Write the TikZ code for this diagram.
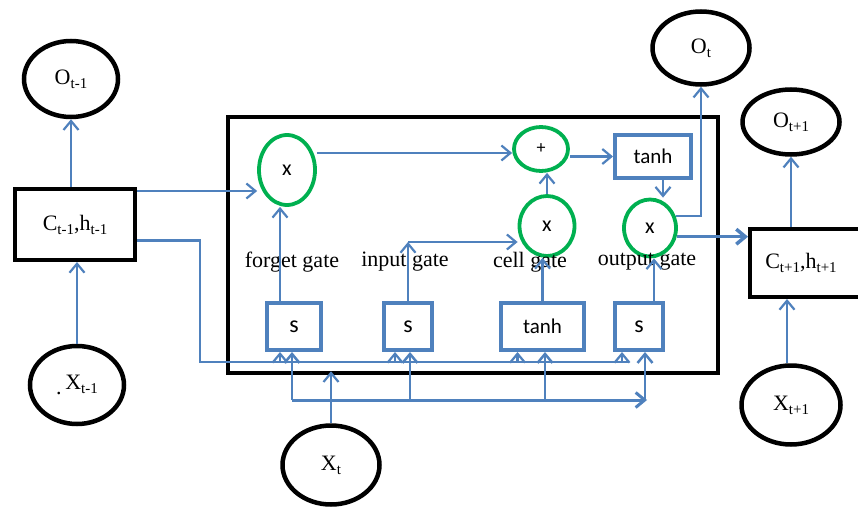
\documentclass[tikz,border=0pt]{standalone}
\usepackage{fontspec}
\setmainfont{Liberation Serif}
\newfontfamily\carl{Carlito}
\usetikzlibrary{shapes.geometric,arrows.meta,calc}
\definecolor{blu}{RGB}{79,129,189}
\definecolor{grn}{RGB}{0,176,80}
\newcommand\sbs[1]{\raisebox{-4pt}{\fontsize{15}{15}\selectfont #1}}
\begin{document}
\begin{tikzpicture}[x=1pt,y=-1pt,
 ell/.style={ellipse,draw=black,line width=4.5pt,inner sep=0pt,font=\fontsize{22}{22}\selectfont},
 gc/.style={ellipse,draw=grn,line width=3.8pt,inner sep=0pt,font=\carl\fontsize{22}{22}\selectfont},
 kbox/.style={rectangle,draw=black,line width=4pt,inner sep=0pt,font=\fontsize{22}{22}\selectfont},
 bbox/.style={rectangle,draw=blu,line width=4pt,inner sep=0pt,font=\carl\fontsize{21}{21}\selectfont},
 glabel/.style={inner sep=0pt,font=\fontsize{22}{22}\selectfont},
 tip/.style={-{Straight Barb[length=9pt,width=15pt]}},
 wire/.style={draw=blu,line width=2.2pt},
 conn/.style={wire,tip}]
\useasboundingbox (0,0) rectangle (858,508);
\fill[white] (0,0) rectangle (858,508);

% big cell box
\draw[line width=4.5pt] (228,117) rectangle (718,373);

% outer nodes
\node[ell,minimum width=94pt,minimum height=76pt] (Om) at (71,79) {O\sbs{t-1}};
\node[kbox,minimum width=120pt,minimum height=71pt] (Cm) at (75,224.5) {C\sbs{t-1},h\sbs{t-1}};
\node[ell,minimum width=94pt,minimum height=78pt] (Xm) at (77,385) {\raisebox{-5pt}{.}\,X\sbs{t-1}};
\node[ell,minimum width=97pt,minimum height=73pt] (Ot) at (701,48) {O\sbs{t}};
\node[ell,minimum width=97pt,minimum height=65pt] (Op) at (791,122) {O\sbs{t+1}};
\node[kbox,minimum width=110pt,minimum height=68pt] (Cp) at (805,263) {\hspace*{-8pt}C\sbs{t+1},h\sbs{t+1}};
\node[ell,minimum width=99pt,minimum height=79pt] (Xp) at (791,405) {X\sbs{t+1}};
\node[ell,minimum width=97pt,minimum height=79pt] (Xt) at (331,465) {X\sbs{t}};

% gate circles
\node[gc,minimum width=56pt,minimum height=70pt] (fg) at (287,170) {x};
\node[gc,minimum width=54pt,minimum height=44pt,font=\carl\fontsize{18}{18}\selectfont] (plus) at (541,149) {+};
\node[gc,minimum width=55pt,minimum height=60pt] (cx) at (547,226) {x};
\node[gc,minimum width=52pt,minimum height=57pt] (ox) at (650,228) {x};
\node[bbox,minimum width=76pt,minimum height=43pt] (tt) at (653,156.5) {tanh};

% activation boxes
\node[bbox,minimum width=54pt,minimum height=47pt,font=\carl\fontsize{24}{24}\selectfont] (s1) at (294,326.5) {s};
\node[bbox,minimum width=48pt,minimum height=47pt,font=\carl\fontsize{24}{24}\selectfont] (s2) at (408,326.5) {s};
\node[bbox,minimum width=83pt,minimum height=47pt] (t2) at (542.5,326.5) {tanh};
\node[bbox,minimum width=48pt,minimum height=47pt,font=\carl\fontsize{24}{24}\selectfont] (s3) at (639,326.5) {s};

% gate labels
\node[glabel] (lf) at (292,262) {forget gate};
\node[glabel] (li) at (405,262) {input gate};
\node[glabel] (lc) at (530,262) {cell gate};
\node[glabel] (lo) at (647,262) {output gate};

% outer connectors
\draw[conn] (Cm.north -| Om.south) -- (Om.south);
\draw[conn] (Xm.north) -- (Xm.north |- Cm.south);
\draw[conn] (Op.south |- Cp.north) -- (Op.south);
\draw[conn] ([xshift=-4pt]Xp.north) -- ([xshift=-4pt]Xp.north |- Cp.south);

% cell state path
\draw[conn] ([yshift=-4pt]Cm.north east) -- ([yshift=-4pt]Cm.north east -| fg.west);
\draw[conn] (fg.east |- 0,153) -- (plus.west |- 0,153);
\draw[conn] (plus.east |- tt.west) -- (tt.west);
\draw[conn] (cx.north) -- (cx.north |- plus.south);
\coordinate (tq) at ([xshift=10pt]tt.south);
\draw[conn] (tq) -- (tq |- ox.north);
\draw[conn] (ox.25) -| (Ot.south);
\draw[conn,line width=3.5pt] (ox.-18) -- (ox.-18 -| Cp.west);

% gate outputs
\draw[conn] ([xshift=-14pt]s1.north) -- ([xshift=-14pt]s1.north |- fg.south);
\coordinate (ig) at (s2.north |- 0,242);
\draw[conn] (s2.north) -- (ig);
\draw[conn] (ig) -- (ig -| cx.west);
\draw[conn] (t2.north) -- (t2.north |- cx.south);
\draw[conn] ([xshift=15pt]s3.north) -- ([xshift=15pt]s3.north |- ox.south);

% h_{t-1} bus
\coordinate (hA) at (200,362);
\coordinate (hAe) at ([xshift=-10pt]s3.south |- hA);
\draw[wire] ([yshift=-16pt]Cm.east) -| (hA) -- (hAe);
\foreach \n/\dx in {s1/-14,s2/-13,t2/-25,s3/-17}
  \draw[conn] ([xshift=\dx pt]\n.south |- hA) -- ([xshift=\dx pt]\n.south);

% x_t bus
\coordinate (xtip) at ([yshift=52pt]Xt.north);
\draw[conn] (Xt.north) -- (xtip);
\coordinate (bB) at ([xshift=-2pt]s1.south |- 0,400);
\coordinate (bBe) at ([xshift=8pt]s3.south |- bB);
\draw[conn,line width=3pt] (bB) -- (bBe);
\draw[conn,line width=2.5pt] (bB) -- (bB |- s1.south);
\draw[conn,line width=2.5pt] ([xshift=2pt]s2.south |- bB) -- ([xshift=2pt]s2.south);
\draw[conn,line width=2.5pt] ([xshift=2.5pt]t2.south |- bB) -- ([xshift=2.5pt]t2.south);
\draw[conn,line width=2.5pt] ([xshift=6pt]s3.south |- bB) -- ([xshift=6pt]s3.south);
\end{tikzpicture}
\end{document}
